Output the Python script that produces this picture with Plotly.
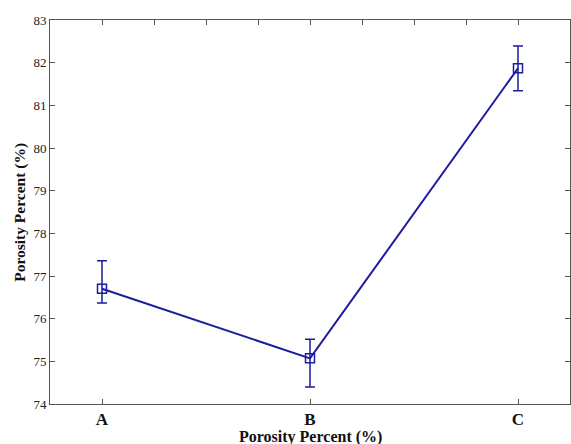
import plotly.graph_objects as go

categories = ["A", "B", "C"]
x_pos = [1, 2, 3]
porosity = [76.70, 75.07, 81.87]
err_plus = [0.66, 0.45, 0.52]
err_minus = [0.33, 0.67, 0.53]
y_ticks = [74, 75, 76, 77, 78, 79, 80, 81, 82, 83]
top_ticks = [1, 1.25, 1.5, 1.75, 2, 2.25, 2.5, 2.75, 3]
x_title = "Porosity Percent (%)"
y_title = "Porosity Percent (%)"

blue = "#1c1c9c"
axis_col = "#555555"
font_fam = "Liberation Serif, Times New Roman, serif"

fig = go.Figure()
fig.add_trace(go.Scatter(
    x=x_pos, y=porosity, mode="lines+markers",
    line=dict(color=blue, width=2),
    marker=dict(symbol="square-open", size=9, color=blue, line=dict(width=1.5)),
    error_y=dict(type="data", symmetric=False, array=err_plus, arrayminus=err_minus,
                 color=blue, thickness=1.5, width=5),
    showlegend=False,
))
fig.add_trace(go.Scatter(x=[0.75, 3.25], y=[74, 74], xaxis="x2", mode="markers",
                         marker=dict(opacity=0), showlegend=False, hoverinfo="skip"))

fig.update_layout(
    width=571, height=444,
    margin=dict(l=50, r=1, t=20, b=40, autoexpand=False),
    paper_bgcolor="white", plot_bgcolor="white",
    font=dict(family=font_fam, color="#222222"),
    xaxis=dict(
        range=[0.75, 3.25], tickvals=x_pos, ticktext=categories, automargin=False,
        ticks="inside", ticklen=5, tickcolor=axis_col,
        showline=True, linecolor=axis_col, linewidth=1, showgrid=False, zeroline=False,
        tickfont=dict(size=17, family=font_fam, color="#111111", weight="bold"),
    ),
    xaxis2=dict(
        range=[0.75, 3.25], overlaying="x", side="top", tickvals=top_ticks, automargin=False,
        showticklabels=False, ticks="inside", ticklen=5, tickcolor=axis_col,
        showline=True, linecolor=axis_col, linewidth=1, showgrid=False, zeroline=False,
    ),
    yaxis=dict(
        range=[74, 83], tickvals=y_ticks, automargin=False,
        ticks="inside", ticklen=5, tickcolor=axis_col, mirror="ticks",
        showline=True, linecolor=axis_col, linewidth=1, showgrid=False, zeroline=False,
        tickfont=dict(size=13, family=font_fam, color="#222222"),
    ),
    annotations=[
        dict(text="<b>" + x_title + "</b>", x=0.5, xref="paper", y=-0.085, yref="paper",
             yanchor="middle", xanchor="center", showarrow=False,
             font=dict(size=16, family=font_fam, color="#111111")),
        dict(text="<b>" + y_title + "</b>", x=-0.058, xref="paper", y=0.5, yref="paper",
             textangle=-90, xanchor="center", yanchor="middle", showarrow=False,
             font=dict(size=15.5, family=font_fam, color="#111111")),
    ],
)

fig.write_html("out.html", config={"displayModeBar": False},
               post_script="document.body.style.margin='0';document.body.style.overflow='hidden';document.documentElement.style.overflow='hidden';")
